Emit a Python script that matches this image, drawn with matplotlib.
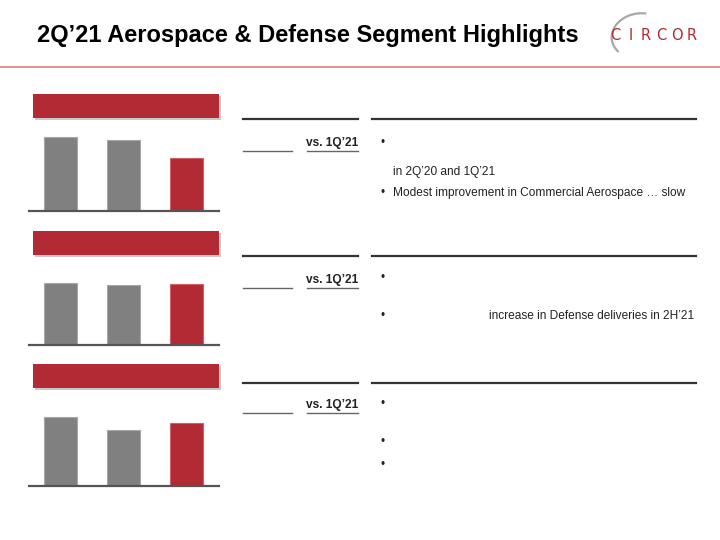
import matplotlib
matplotlib.use('Agg')
import matplotlib.pyplot as plt
from matplotlib.patches import Rectangle, Arc
from matplotlib.lines import Line2D

plt.rcParams['font.family'] = ['Liberation Sans', 'DejaVu Sans']

# quarters shown in each small chart (no labels on the slide)
periods = ['2Q\u201920', '1Q\u201921', '2Q\u201921']
# bar heights (arbitrary units, one list per panel)
orders = [73.7, 70.7, 52.7]
revenue = [61.7, 59.4, 60.4]
op_income = [68.7, 56.0, 63.3]
bar_colors = ['#808080', '#808080', '#B22A34']

title = '2Q\u201921 Aerospace & Defense Segment Highlights'
vs_label = 'vs. 1Q\u201921'
bullet_text = [
    ['', 'in 2Q\u201920 and 1Q\u201921', 'Modest improvement in Commercial Aerospace \u2026 slow'],
    ['', 'increase in Defense deliveries in 2H\u201921'],
    ['', '', ''],
]

W, H = 720, 540
RED = '#B22A34'

fig = plt.figure(figsize=(7.2, 5.4), dpi=100)


def fx(x):
    return x / W


def fy(y):
    return 1 - y / H


# title and logo
fig.text(fx(37), fy(35.5), title, fontsize=17, fontweight='bold', va='center', ha='left', color='black')
fig.add_artist(Line2D([0, 1], [fy(66.5), fy(66.5)], color='#E07B7B', lw=1.2))
for i, ch in enumerate('CIRCOR'):
    fig.text(fx(615 + i * 15.4), fy(36), ch, fontsize=10.5, color=RED, ha='center', va='center',
             family='DejaVu Sans')
fig.add_artist(Arc((fx(640), fy(36)), fx(56), 46 / H, angle=-20, theta1=98, theta2=245,
                   color='#A8A8A8', lw=1.6, transform=fig.transFigure))

# panel geometry (pixel rows of header bar and baseline)
headers = [94, 231, 364]
baselines = [210.7, 344.7, 486]
rule_top = [119, 255.7, 383.3]
rule_low = [151, 288.3, 412.7]
vs_y = [143, 280, 405]
bullet_rows = [[143, 172, 192.7], [278, 316], [404, 441.7, 465]]
bullet_marks = [[True, False, True], [True, True], [True, True, True]]
text_x = [[393, 393, 393], [393, 489], [393, 393, 393]]

for k, vals in enumerate([orders, revenue, op_income]):
    # red header bar with soft shadow
    hy = headers[k]
    fig.add_artist(Rectangle((fx(35), fy(hy + 26)), fx(186), 24 / H, color='#C8C8C8', lw=0))
    fig.add_artist(Rectangle((fx(33), fy(hy + 24)), fx(186), 24 / H, color=RED, lw=0))

    ax = fig.add_axes([fx(29), fy(baselines[k]), fx(190), 80 / H])
    ax.bar(range(len(periods)), vals, width=0.524, color=bar_colors,
           edgecolor=['#A8A8A8', '#A8A8A8', '#D06068'], linewidth=0.8)
    ax.set_xlim(-0.5, 2.516)
    ax.set_ylim(0, 80)
    for s in ['top', 'right', 'left']:
        ax.spines[s].set_visible(False)
    ax.spines['bottom'].set_color('#555555')
    ax.spines['bottom'].set_linewidth(1.6)
    ax.set_xticks([])
    ax.set_yticks([])
    ax.patch.set_alpha(0)

    # rules and labels on the right
    fig.add_artist(Line2D([fx(243), fx(358)], [fy(rule_top[k])] * 2, color='#333333', lw=1.6))
    fig.add_artist(Line2D([fx(372), fx(696)], [fy(rule_top[k])] * 2, color='#333333', lw=1.6))
    fig.add_artist(Line2D([fx(243), fx(292)], [fy(rule_low[k])] * 2, color='#666666', lw=1.0))
    fig.add_artist(Line2D([fx(307), fx(358)], [fy(rule_low[k])] * 2, color='#666666', lw=1.0))
    fig.text(fx(358), fy(vs_y[k]), vs_label, fontsize=8.6, fontweight='bold', ha='right', va='center',
             color='#222222')

    for row, txt, mark, tx in zip(bullet_rows[k], bullet_text[k], bullet_marks[k], text_x[k]):
        if mark:
            fig.text(fx(383), fy(row), '\u2022', fontsize=8.5, ha='center', va='center', color='#222222')
        if txt:
            fig.text(fx(tx), fy(row), txt, fontsize=8.55, ha='left', va='center', color='#222222')

fig.savefig('out.png', dpi=100)
